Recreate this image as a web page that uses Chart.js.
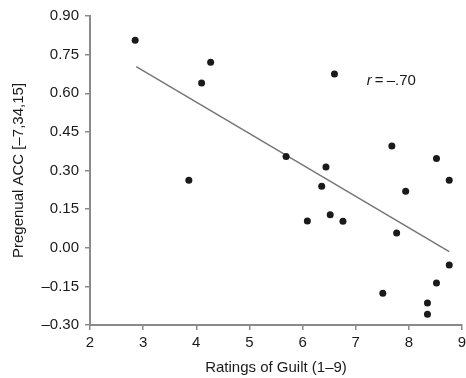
<!DOCTYPE html>
<html>
<head>
<meta charset="utf-8">
<script src="https://cdn.jsdelivr.net/npm/chart.js"></script>
<style>
html, body { margin: 0; padding: 0; background: #fff; }
</style>
</head>
<body>
<canvas id="chartGuilt" width="466" height="378"></canvas>
<script>
// ratings of guilt (x) vs pregenual ACC (y)
var guilt = [2.85, 4.10, 4.27, 3.86, 6.60, 7.68, 5.69, 6.44, 8.52, 8.76, 6.36, 7.94,
             6.09, 6.52, 6.76, 7.77, 8.76, 8.52, 7.51, 8.35, 8.35];
var acc   = [0.806, 0.640, 0.720, 0.262, 0.675, 0.395, 0.354, 0.314, 0.347, 0.262, 0.239, 0.219,
             0.104, 0.128, 0.103, 0.057, -0.067, -0.137, -0.177, -0.215, -0.258];
var fitX = [2.87, 8.76];
var fitY = [0.703, -0.015];
var xTicks = [2, 3, 4, 5, 6, 7, 8, 9];
var yTicks = [-0.30, -0.15, 0.00, 0.15, 0.30, 0.45, 0.60, 0.75, 0.90];
var rLabel = { x: 7.21, y: 0.649, r: 'r', rest: '\u2009=\u2009\u2013.70' };

var axisGray = '#8a8a8a';
var textColor = '#1a1a1a';
var tickFont = { family: '"Liberation Sans", Arial, sans-serif', size: 15 };

function pts(xs, ys) {
	var out = [];
	for (var i = 0; i < xs.length; i++) { out.push({ x: xs[i], y: ys[i] }); }
	return out;
}

var rPlugin = {
	id: 'rLabel',
	afterDatasetsDraw: function(chart) {
		var ctx = chart.ctx;
		var px = chart.scales.x.getPixelForValue(rLabel.x);
		var py = chart.scales.y.getPixelForValue(rLabel.y);
		ctx.save();
		ctx.fillStyle = textColor;
		ctx.textBaseline = 'middle';
		ctx.textAlign = 'left';
		ctx.font = 'italic 15px "Liberation Sans", Arial, sans-serif';
		ctx.fillText(rLabel.r, px, py);
		var w = ctx.measureText(rLabel.r).width;
		ctx.font = '15px "Liberation Sans", Arial, sans-serif';
		ctx.fillText(rLabel.rest, px + w, py);
		ctx.restore();
	}
};

var chart_scatter = new Chart(document.getElementById('chartGuilt'), {
	type: 'scatter',
	data: {
		datasets: [{
			data: pts(guilt, acc),
			backgroundColor: '#1a1a1a',
			borderColor: '#1a1a1a',
			pointRadius: 3.5,
			pointBorderWidth: 0
		}, {
			type: 'line',
			data: pts(fitX, fitY),
			borderColor: '#767676',
			borderWidth: 1.5,
			pointRadius: 0,
			fill: false
		}]
	},
	options: {
		responsive: false,
		animation: false,
		layout: { padding: { top: 16, right: 2, left: 0, bottom: 0 } },
		plugins: { legend: { display: false }, tooltip: { enabled: false } },
		scales: {
			x: {
				type: 'linear',
				min: 2,
				max: 9,
				afterBuildTicks: function(s) { s.ticks = xTicks.map(function(v) { return { value: v }; }); },
				afterFit: function(s) { s.height = 53; s.paddingRight = 0; },
				grid: { drawOnChartArea: false, drawTicks: true, tickLength: 5, color: axisGray, lineWidth: 1.5 },
				border: { color: axisGray, width: 2 },
				ticks: { color: textColor, font: tickFont, padding: 4, maxRotation: 0 },
				title: { display: true, text: 'Ratings of Guilt (1\u20139)', color: textColor, font: tickFont, padding: { top: 0, bottom: 1 } }
			},
			y: {
				type: 'linear',
				min: -0.30,
				max: 0.90,
				afterBuildTicks: function(s) { s.ticks = yTicks.map(function(v) { return { value: v }; }); },
				afterFit: function(s) { s.width = 90; },
				grid: { drawOnChartArea: false, drawTicks: true, tickLength: 5, color: axisGray, lineWidth: 1.5 },
				border: { color: axisGray, width: 2 },
				ticks: {
					color: textColor,
					font: tickFont,
					padding: 6,
					callback: function(v) { return v.toFixed(2).replace('-', '\u2013'); }
				},
				title: { display: true, text: 'Pregenual ACC [\u20137,34,15]', color: textColor, font: tickFont, padding: { top: 10, bottom: 0 } }
			}
		}
	},
	plugins: [rPlugin]
});
</script>
</body>
</html>
